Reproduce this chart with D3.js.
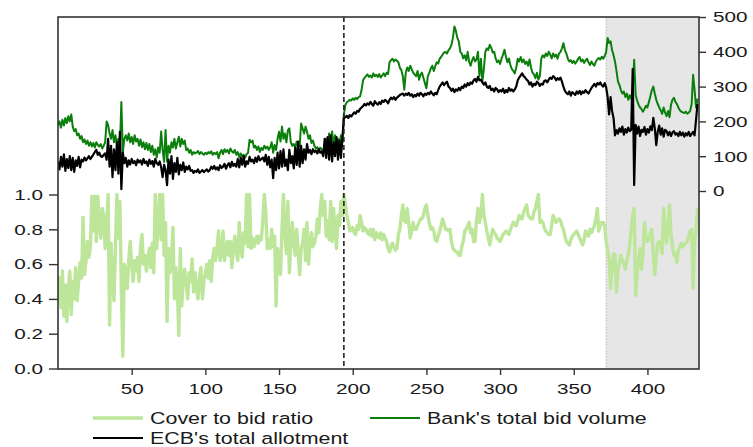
<!DOCTYPE html>
<html><head><meta charset="utf-8">
<script src="https://cdn.jsdelivr.net/npm/d3@7/dist/d3.min.js"></script>
<style>body{margin:0;background:#fff;} text{font-family:"Liberation Sans",Arial,sans-serif;fill:#1a1a1a;}</style>
</head><body><svg id="c" width="753" height="447"></svg>
<script>
// ECB's total allotment (right axis), one value per operation index 0..434
const allotment = [
85,62,98,70,105,58,92,66,100,60,
95,55,88,72,98,68,90,85,96,88,
94,100,92,98,105,112,118,104,110,100,
98,104,108,90,150,70,130,40,120,60,
140,50,170,5,110,80,95,70,88,76,
92,80,86,74,90,82,88,76,92,80,
85,72,90,78,86,70,92,80,75,85,
68,40,75,60,17,90,50,100,35,80,
55,95,48,75,60,82,55,70,62,72,
58,60,52,58,55,62,52,56,60,54,
58,62,56,60,70,64,72,62,68,60,
74,66,70,78,64,74,80,68,84,72,
78,70,92,68,96,75,100,70,85,78,
98,85,90,80,96,84,100,88,92,96,
85,104,75,98,68,90,37,95,60,110,
65,115,70,120,72,90,60,118,80,100,
65,125,75,142,70,130,80,120,90,135,
110,118,106,120,112,116,108,120,110,114,
100,150,95,155,90,160,85,140,100,155,
90,145,95,150,210,212,216,210,218,214,
220,226,222,230,228,236,240,244,250,246,
252,248,256,250,245,258,252,248,255,250,
260,256,262,258,252,262,268,264,270,262,
268,272,276,278,280,274,280,276,282,274,
278,270,276,272,280,274,282,278,272,280,
276,282,278,286,280,275,282,278,290,300,
306,312,304,310,314,300,296,288,294,284,
292,288,296,290,300,296,306,300,310,304,
312,308,318,322,314,328,318,320,312,306,
312,300,296,302,290,294,286,296,292,284,
290,286,294,282,290,284,296,288,292,286,
292,300,318,326,332,338,330,326,320,316,
306,312,300,308,304,314,310,302,308,306,
316,318,312,320,326,322,330,326,318,324,
320,326,314,300,288,282,278,286,274,284,
280,276,286,280,288,278,286,282,290,284,
280,288,296,302,308,300,310,306,312,304,
300,310,298,270,220,270,230,210,160,175,
165,180,170,185,162,178,168,182,172,176,
350,17,190,165,185,158,176,170,184,162,
178,168,186,175,210,180,132,170,188,162,
180,156,176,172,160,170,158,168,172,162,
166,158,170,160,168,156,166,160,170,158,
164,170,160,205,250];

// Banks' total bid volume (right axis)
const bidVolume = [
190,200,182,205,188,210,195,215,200,220,
185,172,178,160,165,150,158,140,148,135,
145,130,140,128,138,125,140,132,128,135,
122,130,140,200,190,165,150,175,140,160,
130,150,125,256,110,150,160,145,165,140,
155,135,160,142,150,130,148,126,140,120,
138,118,135,112,130,104,120,96,125,110,
171,118,84,175,84,130,110,140,125,150,
122,140,156,128,150,135,145,118,122,110,
118,104,112,108,110,115,106,112,108,104,
110,106,112,108,114,104,110,106,112,94,
110,118,106,120,112,118,108,122,114,110,
118,104,112,98,108,100,104,96,106,110,
147,140,145,125,130,118,128,112,124,118,
130,122,128,118,125,140,110,132,118,150,
170,142,185,150,165,140,175,180,140,130,
135,125,142,128,130,194,180,165,185,170,
150,160,138,145,130,122,126,118,124,120,
118,125,150,135,165,140,171,130,160,145,
150,135,160,140,219,247,255,258,262,260,
266,262,268,264,270,272,290,318,325,330,
335,328,332,326,338,330,334,328,336,326,
332,338,330,340,336,370,376,380,372,378,
374,370,354,348,330,291,340,355,345,360,
350,340,335,330,345,320,335,340,325,310,
295,330,340,352,360,345,358,370,366,380,
385,392,398,400,395,405,410,420,440,473,
460,440,430,400,395,381,390,375,400,372,
360,375,385,372,378,400,330,380,315,350,
400,410,405,420,412,398,400,381,370,375,
365,380,392,406,385,370,381,362,350,345,
338,355,380,372,385,370,378,365,372,360,
378,355,340,335,324,340,320,330,381,390,
384,395,388,400,392,381,395,386,392,380,
395,400,410,425,405,395,380,372,376,368,
374,366,372,380,385,372,378,368,375,380,
370,362,372,365,360,372,378,382,378,386,
380,388,400,440,425,430,405,390,372,345,
315,305,290,280,286,270,280,262,275,265,
290,377,276,260,248,240,235,228,236,245,
240,256,272,290,300,280,262,250,240,232,
222,240,225,215,230,212,248,262,268,256,
250,240,232,228,226,224,228,222,225,230,
250,334,290,240,265];

// Cover to bid ratio (left axis)
const coverRatio = [
0.40,0.52,0.35,0.56,0.30,0.48,0.27,0.45,0.56,0.31,
0.50,0.40,0.58,0.39,0.50,0.61,0.52,0.87,0.54,0.62,
0.73,0.64,0.70,0.99,0.79,0.99,0.73,0.99,0.84,0.75,
0.92,0.88,0.69,0.80,1.00,0.25,0.72,0.55,0.39,0.70,
1.00,0.75,0.96,0.45,0.07,0.60,0.55,0.46,0.62,0.73,
0.60,0.50,0.62,0.56,0.64,0.50,0.70,0.77,0.60,0.65,
0.56,0.64,0.69,0.58,0.72,0.55,1.00,0.69,0.84,1.00,
0.74,1.00,0.65,0.84,0.27,0.69,0.55,0.62,0.81,0.40,
0.58,0.45,0.19,0.69,0.36,0.52,0.57,0.48,0.40,0.55,
0.50,0.63,0.44,0.55,0.46,0.40,0.52,0.58,0.40,0.50,
0.55,0.60,0.52,0.62,0.50,0.64,0.69,0.62,0.70,0.79,
0.62,0.66,0.79,0.62,0.68,0.73,0.65,0.73,0.58,0.70,
0.76,0.66,0.62,0.84,0.70,0.64,0.78,0.72,1.00,0.70,
1.00,0.69,0.75,0.70,0.73,0.76,0.72,0.76,0.74,0.85,
1.00,0.90,0.69,0.74,0.69,0.80,0.70,0.76,0.36,0.69,
0.60,0.54,0.80,1.00,0.76,0.66,0.96,0.55,0.72,0.84,
0.72,0.65,0.80,0.67,0.54,0.69,0.72,0.80,0.62,0.84,
0.60,0.72,0.78,0.70,0.72,0.76,0.86,0.78,0.92,1.00,
0.88,0.96,0.76,0.85,0.74,0.96,0.73,0.92,0.80,0.69,
0.88,0.82,0.96,0.88,1.00,0.95,0.88,0.84,0.79,0.80,
0.81,0.78,0.77,0.82,0.80,0.88,0.84,0.79,0.81,0.80,
0.78,0.77,0.80,0.76,0.80,0.74,0.78,0.76,0.75,0.78,
0.74,0.77,0.75,0.73,0.69,0.67,0.70,0.72,0.70,0.68,
0.69,0.77,0.80,0.88,0.94,0.85,0.84,0.92,0.84,0.75,
0.79,0.84,0.80,0.80,0.82,0.84,0.86,0.86,0.88,0.92,
0.94,0.88,0.84,0.80,0.81,0.79,0.74,0.73,0.76,0.79,
0.82,0.86,0.83,0.80,0.80,0.79,0.80,0.73,0.69,0.68,
0.67,0.67,0.65,0.65,0.70,0.73,0.79,0.80,0.82,0.84,
0.78,0.80,0.73,0.73,0.85,0.92,0.84,0.88,1.00,0.88,
0.84,0.79,0.75,0.71,0.76,0.80,0.78,0.77,0.75,0.74,
0.73,0.75,0.77,0.78,0.79,0.78,0.77,0.80,0.82,0.84,
0.83,0.82,0.85,0.88,0.86,0.86,0.90,0.92,0.94,0.88,
0.87,0.86,0.86,0.90,0.92,0.96,1.00,0.84,0.85,0.84,
0.81,0.79,0.78,0.77,0.77,0.82,0.88,0.86,0.84,0.85,
0.86,0.85,0.82,0.80,0.76,0.73,0.72,0.71,0.74,0.76,
0.77,0.78,0.79,0.77,0.75,0.73,0.71,0.74,0.79,0.78,
0.76,0.80,0.78,0.80,0.82,0.86,0.92,0.79,0.82,0.84,
0.84,0.82,0.73,0.68,0.63,0.46,0.58,0.66,0.65,0.44,
0.56,0.61,0.65,0.62,0.60,0.57,0.62,0.65,0.72,0.80,
0.88,0.92,0.42,0.54,0.62,0.69,0.57,0.66,0.84,0.76,
0.73,0.74,0.78,0.80,0.65,0.54,0.64,0.72,0.73,0.70,
0.66,0.92,0.80,0.72,0.82,0.94,0.77,0.70,0.65,0.66,
0.61,0.68,0.70,0.72,0.70,0.71,0.72,0.73,0.76,0.79,
0.80,0.46,0.72,0.80,0.92];

const leftTicks = [0, 0.2, 0.4, 0.6, 0.8, 1.0];
const rightTicks = [0, 100, 200, 300, 400, 500];
const xTicks = [50, 100, 150, 200, 250, 300, 350, 400];
const breakIndex = 194;
const shadeFrom = 372;
const legendLabels = ["Cover to bid ratio", "Bank's total bid volume", "ECB's total allotment"];

const svg = d3.select("#c");
const L = 58, R = 699, T = 17, B = 369;
const x = d3.scaleLinear().domain([0, 435]).range([L, R]);
const yR = d3.scaleLinear().domain([0, 1]).range([368.5, 194.5]);
const yV = d3.scaleLinear().domain([0, 500]).range([191, 17]);
const SX = 1.38;

svg.append("defs").append("clipPath").attr("id", "clip")
  .append("rect").attr("x", L).attr("y", T).attr("width", R - L).attr("height", B - T);

// shaded period
svg.append("rect").attr("x", x(shadeFrom)).attr("y", T).attr("width", R - x(shadeFrom)).attr("height", B - T)
  .attr("fill", "#e6e6e6");
svg.append("line").attr("x1", x(shadeFrom)).attr("x2", x(shadeFrom)).attr("y1", T).attr("y2", B)
  .attr("stroke", "#c4c4c4").attr("stroke-width", 1).attr("stroke-dasharray", "2,1");

const plot = svg.append("g").attr("clip-path", "url(#clip)");
const lineR = d3.line().x((d, i) => x(i)).y(d => yR(d));
const lineV = d3.line().x((d, i) => x(i)).y(d => yV(d));

plot.append("path").datum(coverRatio).attr("d", lineR).attr("fill", "none")
  .attr("stroke", "#bde69a").attr("stroke-width", 3.4).attr("stroke-linejoin", "round");
plot.append("path").datum(bidVolume).attr("d", lineV).attr("fill", "none")
  .attr("stroke", "#0b7f0b").attr("stroke-width", 2).attr("stroke-linejoin", "round");
plot.append("path").datum(allotment).attr("d", lineV).attr("fill", "none")
  .attr("stroke", "#000").attr("stroke-width", 2.2).attr("stroke-linejoin", "round");

// regime break
svg.append("line").attr("x1", x(breakIndex)).attr("x2", x(breakIndex)).attr("y1", T).attr("y2", B)
  .attr("stroke", "#222").attr("stroke-width", 1.6).attr("stroke-dasharray", "5,3");

// frame
svg.append("rect").attr("x", L).attr("y", T).attr("width", R - L).attr("height", B - T)
  .attr("fill", "none").attr("stroke", "#333").attr("stroke-width", 1.6);

// axes
const gx = svg.append("g").attr("transform", `translate(0,${B})`)
  .call(d3.axisBottom(x).tickValues(xTicks).tickSize(6).tickPadding(8).tickFormat(d3.format("d")));
const gl = svg.append("g").attr("transform", `translate(${L},0)`)
  .call(d3.axisLeft(yR).tickValues(leftTicks).tickSize(9).tickPadding(6).tickFormat(d3.format(".1f")));
const gr = svg.append("g").attr("transform", `translate(${R},0)`)
  .call(d3.axisRight(yV).tickValues(rightTicks).tickSize(7).tickPadding(7).tickFormat(d3.format("d")));
[gx, gl, gr].forEach(g => {
  g.select(".domain").remove();
  g.selectAll(".tick line").attr("stroke", "#333").attr("stroke-width", 1.4);
  g.selectAll("text").attr("font-size", 15).attr("fill", "#1a1a1a")
    .attr("font-family", '"Liberation Sans", Arial, sans-serif');
});
gx.selectAll("text").attr("transform", `scale(${SX},1)`);
gl.selectAll("text").attr("x", -15 / SX).attr("transform", `scale(${SX},1)`);
gr.selectAll("text").attr("x", 14 / SX).attr("transform", `scale(${SX},1)`);

// legend
const legColors = ["#bde69a", "#0b7f0b", "#000"];
const legWidths = [3.4, 2, 2];
const legPos = [[93, 418], [370, 418], [93, 438]];
const SL = 1.3;
legendLabels.forEach((lab, i) => {
  const [lx, ly] = legPos[i];
  svg.append("line").attr("x1", lx).attr("x2", lx + 50).attr("y1", ly).attr("y2", ly)
    .attr("stroke", legColors[i]).attr("stroke-width", legWidths[i]);
  svg.append("text").attr("transform", `translate(${lx + 57},${ly + 6}) scale(${SL},1)`)
    .attr("font-size", 16.5).text(lab);
});
</script></body></html>
